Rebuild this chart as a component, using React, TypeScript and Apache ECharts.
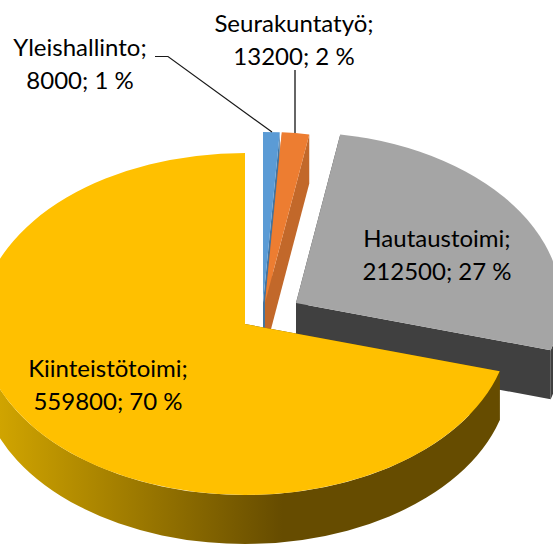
import React, { useEffect, useRef } from "react";
import * as echarts from "echarts";

const categories = ["Yleishallinto", "Seurakuntatyö", "Hautaustoimi", "Kiinteistötoimi"];
const values = [8000, 13200, 212500, 559800];
const percents = [1, 2, 27, 70];

const W = 553;
const H = 545;
const RX = 265;
const RY = 171;
const DEPTH = 49;
const total = values.reduce((a, b) => a + b, 0);

const apexes = [[263, 303], [265, 303], [296, 303], [245, 324]];
const topColors = ["#5b9bd5", "#ed7d31", "#a5a5a5", "#ffc000"];
const wallColors = ["#44749f", "#c2682a", "#404040", "#664c00"];
const labelPos = [[80, 63], [294, 38.5], [437, 253.5], [108, 383.5]];
const FONT = '24px Lato, "Open Sans", sans-serif';

const rimFill: any = {
  type: "linear",
  global: true,
  x: 0,
  y: 0,
  x2: 282,
  y2: 0,
  colorStops: [
    { offset: 0, color: "#d0a400" },
    { offset: 1, color: "#664c00" },
  ],
};

function renderItem(params: any) {
  const i = params.dataIndex;
  const before = values.slice(0, i).reduce((a, b) => a + b, 0);
  const a0 = (before / total) * 360;
  const a1 = ((before + values[i]) / total) * 360;
  const [ax, ay] = apexes[i];
  const pt = (deg: number, dy = 0): [number, number] => {
    const r = (deg * Math.PI) / 180;
    return [ax + RX * Math.sin(r), ay - RY * Math.cos(r) + dy];
  };
  const arc = (from: number, to: number, dy: number) => {
    const [x, y] = pt(to, dy);
    const large = Math.abs(to - from) > 180 ? 1 : 0;
    const sweep = to > from ? 1 : 0;
    return `A ${RX} ${RY} 0 ${large} ${sweep} ${x} ${y}`;
  };
  const face = (deg: number) => {
    const [x, y] = pt(deg);
    return `M ${ax} ${ay} L ${x} ${y} L ${x} ${y + DEPTH} L ${ax} ${ay + DEPTH} Z`;
  };
  const children: any[] = [];
  const wall = wallColors[i];
  children.push({ type: "path", shape: { pathData: face(a0) }, style: { fill: wall } });
  children.push({ type: "path", shape: { pathData: face(a1) }, style: { fill: wall } });
  const r0 = Math.max(a0, 90);
  const r1 = Math.min(a1, 270);
  if (r1 > r0) {
    const [sx, sy] = pt(r0);
    const [ex, ey] = pt(r1, DEPTH);
    const d = `M ${sx} ${sy} ${arc(r0, r1, 0)} L ${ex} ${ey} ${arc(r1, r0, DEPTH)} Z`;
    children.push({
      type: "path",
      shape: { pathData: d },
      style: { fill: i === 3 ? rimFill : wall },
    });
  }
  const [tx, ty] = pt(a0);
  children.push({
    type: "path",
    shape: { pathData: `M ${ax} ${ay} L ${tx} ${ty} ${arc(a0, a1, 0)} Z` },
    style: { fill: topColors[i] },
  });
  if (i === 0) {
    children.push({
      type: "polyline",
      shape: { points: [[155, 56.5], [168, 56.5], [272, 132]] },
      style: { stroke: "#1a1a1a", lineWidth: 1.2, fill: "none" },
    });
  }
  if (i === 1) {
    children.push({
      type: "line",
      shape: { x1: 295, y1: 70, x2: 295, y2: 133 },
      style: { stroke: "#333333", lineWidth: 1.5 },
    });
  }
  children.push({
    type: "text",
    style: {
      text: `${categories[i]};\n${values[i]}; ${percents[i]} %`,
      x: labelPos[i][0],
      y: labelPos[i][1],
      align: "center",
      verticalAlign: "middle",
      font: FONT,
      lineHeight: 33,
      fill: "#000000",
    },
  });
  return { type: "group", children };
}

export default function App() {
  const ref = useRef<HTMLDivElement>(null);
  useEffect(() => {
    document.body.style.margin = "0";
    const chart = echarts.init(ref.current!, null, { renderer: "svg" });
    chart.setOption({
      animation: false,
      backgroundColor: "#ffffff",
      series: [
        {
          type: "custom",
          coordinateSystem: "none",
          silent: true,
          clip: false,
          renderItem,
          data: values.map((v, i) => ({ name: categories[i], value: v })),
        },
      ],
    });
    return () => chart.dispose();
  }, []);
  return <div ref={ref} style={{ width: W, height: H, overflow: "hidden" }} />;
}
